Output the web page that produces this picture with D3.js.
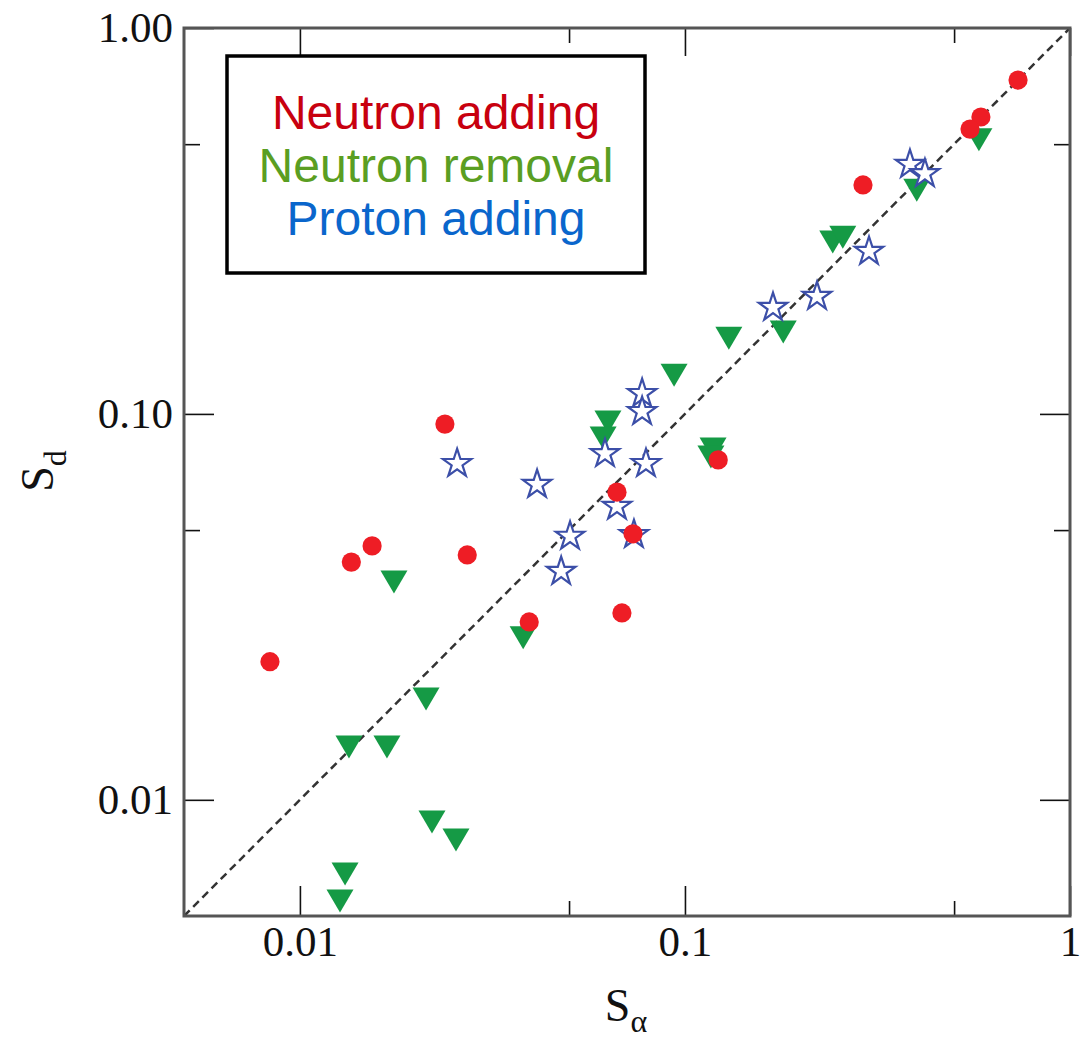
<!DOCTYPE html>
<html lang="en">
<head>
    <meta charset="UTF-8">
    <title>S_d vs S_alpha</title>
    <style>
        body { margin: 0; background: #fff; }
        svg { display: block; }
        .tick text { font-family: "Liberation Serif", "Times New Roman", serif; }
    </style>
</head>
<body>
    <div id="graphic"></div>

    <script src="https://cdn.jsdelivr.net/npm/d3@7"></script>
    <script>
        // values (S_alpha, S_d)
        var neutronAddingX = [0.733, 0.587, 0.550, 0.290, 0.0238, 0.0666, 0.122, 0.0733, 0.0686, 0.0394, 0.0272, 0.0154, 0.0136, 0.00836];
        var neutronAddingY = [0.733, 0.588, 0.547, 0.392, 0.0941, 0.0627, 0.0760, 0.0489, 0.0305, 0.0289, 0.0431, 0.0455, 0.0413, 0.0228];

        var neutronRemovalX = [0.580, 0.400, 0.242, 0.257, 0.180, 0.130, 0.0937, 0.0631, 0.0613, 0.1183, 0.1168, 0.0380, 0.01755, 0.02126, 0.01341, 0.01683, 0.02203, 0.02543, 0.01310, 0.01271];
        var neutronRemovalY = [0.513, 0.380, 0.279, 0.287, 0.163, 0.157, 0.126, 0.0953, 0.0866, 0.0811, 0.0773, 0.0263, 0.0367, 0.01825, 0.0137, 0.0137, 0.00876, 0.00787, 0.00642, 0.00547];

        var protonAddingX = [0.384, 0.420, 0.3006, 0.2203, 0.1693, 0.0774, 0.0774, 0.0620, 0.0792, 0.0413, 0.0666, 0.0503, 0.0477, 0.0737, 0.0256];
        var protonAddingY = [0.447, 0.423, 0.266, 0.2033, 0.1904, 0.1139, 0.1023, 0.0796, 0.0750, 0.0662, 0.0581, 0.0486, 0.0394, 0.0491, 0.0750];

        var majorTicks = [0.01, 0.1, 1];
        var minorTicks = [0.05, 0.5];
        var xTickLabels = ['0.01', '0.1', '1'];
        var yTickLabels = ['0.01', '0.10', '1.00'];
        var legendLabels = ['Neutron adding', 'Neutron removal', 'Proton adding'];
        var legendColors = ['#c8000f', '#5a9e22', '#0a66cc'];

        var width = 1082;
        var height = 1042;
        var margin = {top: 28, right: 12, bottom: 126, left: 184};
        var w = width - margin.left - margin.right;
        var h = height - margin.top - margin.bottom;

        function zip(xs, ys) {
            return xs.map(function(v, i) { return {x: v, y: ys[i]}; });
        }

        var svg = d3.select('#graphic')
            .append('svg')
            .attr('width', width)
            .attr('height', height);

        var g = svg.append('g')
            .attr('transform', 'translate(' + margin.left + ',' + margin.top + ')');

        var x = d3.scaleLog().domain([0.005, 1]).range([0, w]);
        var y = d3.scaleLog().domain([0.005, 1]).range([h, 0]);

        // diagonal S_d = S_alpha
        g.append('line')
            .attr('x1', x(0.005)).attr('y1', y(0.005))
            .attr('x2', x(1)).attr('y2', y(1))
            .attr('stroke', '#333')
            .attr('stroke-width', 2.5)
            .attr('stroke-dasharray', '8,5');

        // axes: major ticks with labels, minor ticks without
        function styleAxis(sel) {
            sel.select('.domain').remove();
            sel.selectAll('.tick line').attr('stroke', '#111').attr('stroke-width', 1.6);
            sel.selectAll('.tick text').attr('font-size', 43).attr('fill', '#111');
        }

        g.append('g')
            .attr('transform', 'translate(0,' + h + ')')
            .call(d3.axisBottom(x).tickValues(majorTicks).tickSizeInner(-30).tickSizeOuter(0).tickPadding(9)
                .tickFormat(function(d, i) { return xTickLabels[i]; }))
            .call(styleAxis);
        g.append('g')
            .attr('transform', 'translate(0,' + h + ')')
            .call(d3.axisBottom(x).tickValues(minorTicks).tickSizeInner(-15).tickSizeOuter(0).tickFormat(''))
            .call(styleAxis);
        g.append('g')
            .call(d3.axisTop(x).tickValues(majorTicks).tickSizeInner(-28).tickSizeOuter(0).tickFormat(''))
            .call(styleAxis);
        g.append('g')
            .call(d3.axisTop(x).tickValues(minorTicks).tickSizeInner(-15).tickSizeOuter(0).tickFormat(''))
            .call(styleAxis);

        g.append('g')
            .call(d3.axisLeft(y).tickValues(majorTicks).tickSizeInner(-30).tickSizeOuter(0).tickPadding(11)
                .tickFormat(function(d, i) { return yTickLabels[i]; }))
            .call(styleAxis);
        g.append('g')
            .call(d3.axisLeft(y).tickValues(minorTicks).tickSizeInner(-16).tickSizeOuter(0).tickFormat(''))
            .call(styleAxis);
        g.append('g')
            .attr('transform', 'translate(' + w + ',0)')
            .call(d3.axisRight(y).tickValues(majorTicks).tickSizeInner(-30).tickSizeOuter(0).tickFormat(''))
            .call(styleAxis);
        g.append('g')
            .attr('transform', 'translate(' + w + ',0)')
            .call(d3.axisRight(y).tickValues(minorTicks).tickSizeInner(-16).tickSizeOuter(0).tickFormat(''))
            .call(styleAxis);

        // frame
        g.append('rect')
            .attr('width', w).attr('height', h)
            .attr('fill', 'none')
            .attr('stroke', '#555')
            .attr('stroke-width', 3);

        // neutron removal: filled down triangles
        g.selectAll('.removal')
            .data(zip(neutronRemovalX, neutronRemovalY))
            .join('path')
            .attr('class', 'removal')
            .attr('d', 'M-13.5,-11.5L13.5,-11.5L0,11.5Z')
            .attr('transform', function(d) { return 'translate(' + x(d.x) + ',' + y(d.y) + ')'; })
            .attr('fill', '#159a45');

        // proton adding: open stars
        g.selectAll('.proton')
            .data(zip(protonAddingX, protonAddingY))
            .join('path')
            .attr('class', 'proton')
            .attr('d', d3.symbol(d3.symbolStar, 250))
            .attr('transform', function(d) { return 'translate(' + x(d.x) + ',' + (y(d.y) + 1.5) + ')'; })
            .attr('fill', '#fff')
            .attr('stroke', '#3c4fa8')
            .attr('stroke-width', 2.2);

        // neutron adding: filled circles
        g.selectAll('.adding')
            .data(zip(neutronAddingX, neutronAddingY))
            .join('circle')
            .attr('class', 'adding')
            .attr('cx', function(d) { return x(d.x); })
            .attr('cy', function(d) { return y(d.y); })
            .attr('r', 9.6)
            .attr('fill', '#ee1d25');

        // legend box
        var legend = svg.append('g');
        legend.append('rect')
            .attr('x', 227).attr('y', 56)
            .attr('width', 418).attr('height', 217)
            .attr('fill', '#fff')
            .attr('stroke', '#000')
            .attr('stroke-width', 3.5);
        legend.selectAll('text')
            .data(legendLabels)
            .join('text')
            .attr('x', 436)
            .attr('y', function(d, i) { return 129 + i * 53; })
            .attr('text-anchor', 'middle')
            .attr('font-family', '"Liberation Sans", Arial, sans-serif')
            .attr('font-size', 48)
            .attr('fill', function(d, i) { return legendColors[i]; })
            .text(function(d) { return d; });

        // axis titles
        var xt = svg.append('text')
            .attr('x', 626).attr('y', 1021)
            .attr('text-anchor', 'middle')
            .attr('font-family', '"Liberation Serif", serif')
            .attr('font-size', 46)
            .attr('fill', '#111');
        xt.append('tspan').text('S');
        xt.append('tspan').attr('font-size', 32).attr('dy', 11).text('α');

        var yt = svg.append('text')
            .attr('transform', 'translate(53,471) rotate(-90)')
            .attr('text-anchor', 'middle')
            .attr('font-family', '"Liberation Serif", serif')
            .attr('font-size', 46)
            .attr('fill', '#111');
        yt.append('tspan').text('S');
        yt.append('tspan').attr('font-size', 32).attr('dy', 13).text('d');
    </script>
</body>
</html>
